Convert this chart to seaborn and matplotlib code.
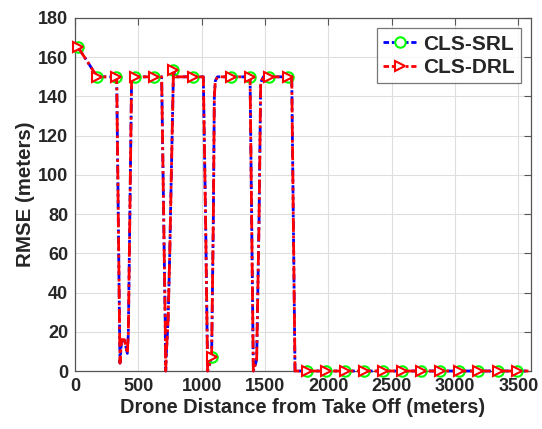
import numpy as np
import pandas as pd
import matplotlib
matplotlib.use("Agg")
import matplotlib.pyplot as plt
import seaborn as sns
from matplotlib.lines import Line2D

# ---- data ----
dist_srl = [25, 175.5, 326, 329, 355, 368, 389, 400, 413, 421, 447, 476.5, 627, 684, 712, 716,
            722, 735, 748, 761, 777.5, 790, 928, 1013, 1031, 1047, 1078.5, 1092, 1100, 1108,
            1125, 1229, 1379.5, 1382, 1408, 1434, 1453, 1466, 1487, 1530, 1680.5, 1711, 1737,
            1831, 1981.5, 2132, 2282.5, 2433, 2583.5, 2734, 2884.5, 3035, 3185.5, 3336, 3486.5, 3580]
rmse_srl = [165, 150, 150, 150, 4, 16, 16, 13, 9, 19, 150, 150, 150, 150, 26, 0,
            10, 26, 60, 102, 153.5, 150, 150, 150, 77, 0, 7, 77, 140, 148,
            150, 150, 150, 150, 0, 5.6, 77, 147, 150, 150, 150, 150, 0,
            0, 0, 0, 0, 0, 0, 0, 0, 0, 0, 0, 0, 0]
dist_drl = list(dist_srl)
rmse_drl = list(rmse_srl)

marker_dist = [25, 175.5, 326, 476.5, 627, 777.5, 928, 1078.5, 1229, 1379.5, 1530, 1680.5,
               1831, 1981.5, 2132, 2282.5, 2433, 2583.5, 2734, 2884.5, 3035, 3185.5, 3336, 3486.5]

x_ticks = [0, 500, 1000, 1500, 2000, 2500, 3000, 3500]
y_ticks = [0, 20, 40, 60, 80, 100, 120, 140, 160, 180]

sns.set_theme(style="white")
plt.rcParams['font.family'] = ['Liberation Sans', 'DejaVu Sans']

fig = plt.figure(figsize=(5.42, 4.29), dpi=100)
ax = fig.add_axes([75/542, 1-371/429, (531-75)/542, (371-18)/429])

df_s = pd.DataFrame({"d": dist_srl, "r": rmse_srl})
df_d = pd.DataFrame({"d": dist_drl, "r": rmse_drl})
idx_s = [i for i, v in enumerate(dist_srl) if v in marker_dist]
idx_d = [i for i, v in enumerate(dist_drl) if v in marker_dist]

sns.lineplot(data=df_s, x="d", y="r", ax=ax, sort=False, estimator=None,
             color=(0, 0, 1), lw=2, marker='o', markevery=idx_s, markersize=7.5,
             markeredgecolor=(0, 1, 0), markerfacecolor='none', markeredgewidth=1.5,
             dashes=False)
sns.lineplot(data=df_d, x="d", y="r", ax=ax, sort=False, estimator=None,
             color=(1, 0, 0), lw=2, marker='>', markevery=idx_d, markersize=6.5,
             markeredgecolor=(1, 0, 0), markerfacecolor='white', markeredgewidth=1.5,
             dashes=False)
lines = ax.get_lines()
lines[0].set_dashes((3, 1.2, 1, 1.2))
lines[1].set_dashes((5, 1.3, 1, 1.3))
lines[0].set_zorder(3)
lines[1].set_zorder(4)
for ln in lines:
    ln.set_clip_on(False)

ax.set_xlim(0, 3600)
ax.set_ylim(0, 180)
ax.set_xticks(x_ticks)
ax.set_yticks(y_ticks)
ax.grid(True, color='#dedede', lw=0.8)
for s in ax.spines.values():
    s.set_color('#555555')
    s.set_linewidth(0.9)
ax.tick_params(direction='in', length=5, width=0.8, color='#555555',
               top=True, right=True, labelsize=13, labelcolor='#262626', pad=5)
for lab in ax.get_xticklabels() + ax.get_yticklabels():
    lab.set_fontweight('bold')
ax.set_xlabel("Drone Distance from Take Off (meters)", fontsize=14.4, fontweight='bold',
              color='#262626', labelpad=2)
ax.set_ylabel("RMSE (meters)", fontsize=14.8, fontweight='bold', color='#262626', labelpad=2)

h1 = Line2D([], [], color=(0, 0, 1), lw=2, ls=(0, (2, 1, 1, 1)), marker='o', markersize=7.5,
            markeredgecolor=(0, 1, 0), markerfacecolor='white', markeredgewidth=1.5)
h2 = Line2D([], [], color=(1, 0, 0), lw=2, ls=(0, (2, 1, 1, 1)), marker='>', markersize=6.5,
            markeredgecolor=(1, 0, 0), markerfacecolor='white', markeredgewidth=1.5)
leg = ax.legend([h1, h2], ["CLS-SRL", "CLS-DRL"], loc='upper right',
                prop={'weight': 'bold', 'size': 15}, frameon=True, fancybox=False,
                handlelength=1.6, handletextpad=0.3, borderpad=0.3, labelspacing=0.2,
                borderaxespad=0.5)
leg.get_frame().set_edgecolor('#555555')
leg.get_frame().set_linewidth(0.9)

fig.savefig("out.png", dpi=100)
